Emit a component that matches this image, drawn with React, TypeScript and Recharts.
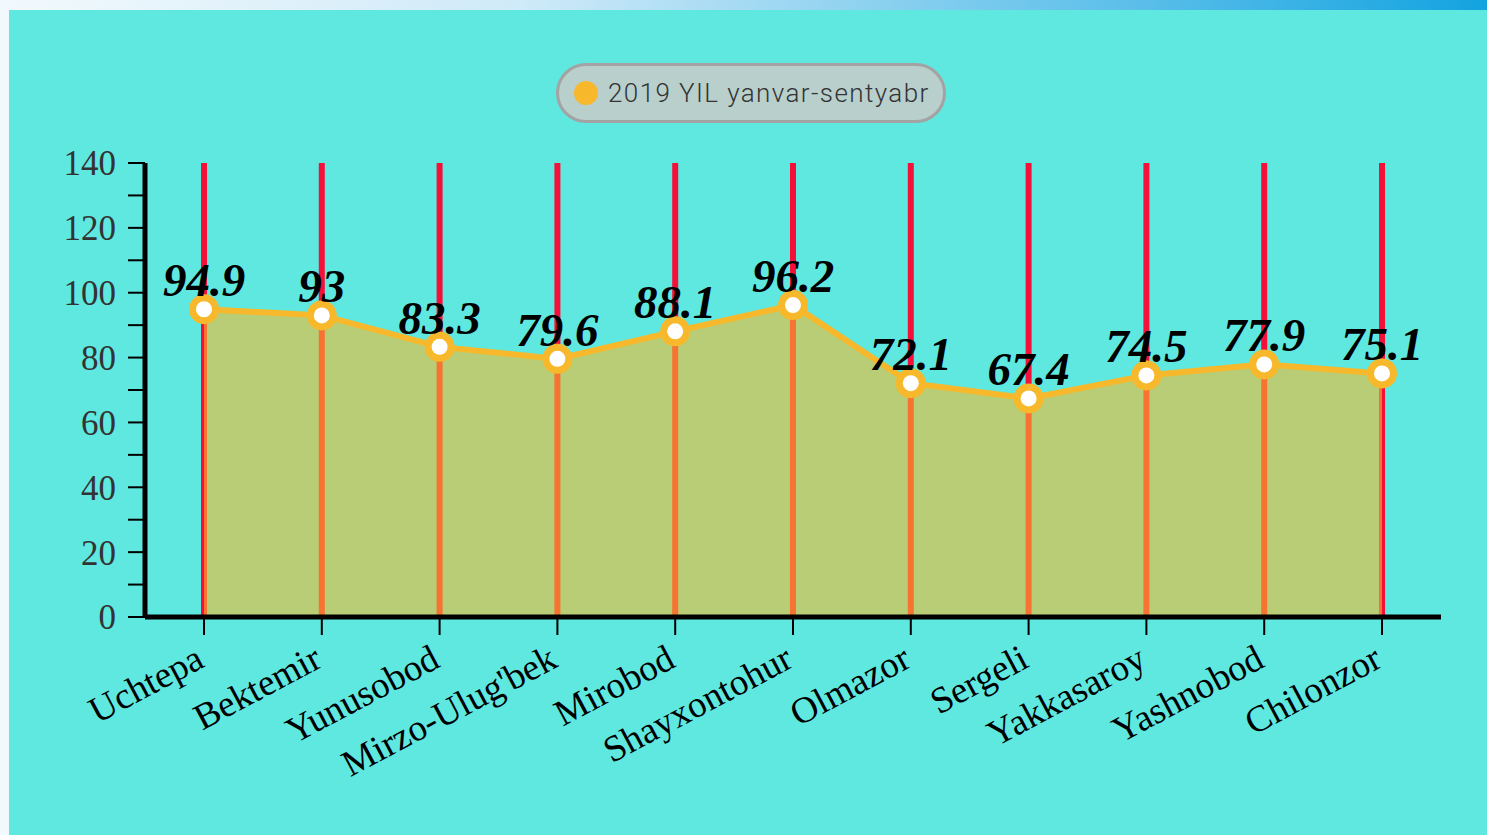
import { Area, AreaChart, CartesianGrid, LabelList, XAxis, YAxis } from 'recharts';

const DISTRICTS = [
  'Uchtepa',
  'Bektemir',
  'Yunusobod',
  "Mirzo-Ulug'bek",
  'Mirobod',
  'Shayxontohur',
  'Olmazor',
  'Sergeli',
  'Yakkasaroy',
  'Yashnobod',
  'Chilonzor',
];

const VALUES = [94.9, 93, 83.3, 79.6, 88.1, 96.2, 72.1, 67.4, 74.5, 77.9, 75.1];

const Y_TICKS = [0, 10, 20, 30, 40, 50, 60, 70, 80, 90, 100, 110, 120, 130, 140];

const SERIES_NAME = '2019 YIL yanvar-sentyabr';

const data = DISTRICTS.map((name, i) => ({ name, value: VALUES[i] }));

const SERIF = '"Liberation Serif", "Times New Roman", serif';

function XTick({ x, y, payload }: any) {
  const ax = x + 2;
  const ay = y + 29;
  return (
    <text
      x={ax}
      y={ay}
      textAnchor="end"
      transform={`rotate(-28 ${ax} ${ay})`}
      fontFamily={SERIF}
      fontSize={37}
      fill="#000"
    >
      {payload.value}
    </text>
  );
}

// dot drawn by hand so the white centre stays opaque
function Dot({ cx, cy, index }: any) {
  if (cx == null || cy == null) return null;
  return (
    <g key={`dot-${index}`}>
      <circle cx={cx} cy={cy} r={15} fill="#f7b92b" />
      <circle cx={cx} cy={cy} r={8} fill="#fff" />
    </g>
  );
}

export default function App() {
  return (
    <div
      style={{
        position: 'relative',
        width: 1487,
        height: 835,
        overflow: 'hidden',
        background: 'linear-gradient(90deg, #f2f9fd 0%, #cfeaf8 35%, #5fc0ea 75%, #12a3e0 100%)',
      }}
    >
      <style>{'body{margin:0}'}</style>
      <div
        style={{
          position: 'absolute',
          left: 9,
          top: 10,
          width: 1478,
          height: 825,
          background: '#5fe8e0',
        }}
      >
        <div
          style={{
            position: 'absolute',
            left: 547,
            top: 53,
            width: 390,
            height: 60,
            boxSizing: 'border-box',
            borderRadius: 30,
            border: '3px solid #a3a3a3',
            background: '#b8cfcc',
            display: 'flex',
            alignItems: 'center',
            paddingLeft: 15,
          }}
        >
          <span
            style={{
              width: 24,
              height: 24,
              borderRadius: 12,
              background: '#f7b92b',
              display: 'inline-block',
            }}
          />
          <span
            style={{
              marginLeft: 10,
              fontFamily: 'Roboto, sans-serif',
              fontWeight: 300,
              fontSize: 26,
              letterSpacing: 1.4,
              color: '#333',
            }}
          >
            {SERIES_NAME}
          </span>
        </div>
        <AreaChart
          width={1478}
          height={825}
          data={data}
          margin={{ top: 153, right: 46, bottom: 68, left: 56 }}
        >
          {/* red verticals sit under the area, so the fill turns them orange */}
          <CartesianGrid horizontal={false} syncWithTicks stroke="#f5103a" strokeWidth={6} />
          <XAxis
            dataKey="name"
            height={150}
            padding={{ left: 59, right: 59 }}
            interval={0}
            axisLine={{ stroke: '#000', strokeWidth: 5 }}
            tickLine={{ stroke: '#000', strokeWidth: 2 }}
            tickSize={18}
            tickMargin={2}
            tick={<XTick />}
          />
          <YAxis
            width={80}
            domain={[0, 140]}
            ticks={Y_TICKS}
            interval={0}
            tickFormatter={(v: number) => (v % 20 === 0 ? String(v) : '')}
            axisLine={{ stroke: '#000', strokeWidth: 5 }}
            tickLine={{ stroke: '#000', strokeWidth: 2 }}
            tickSize={17}
            tickMargin={12}
            tick={{ fontFamily: SERIF, fontSize: 35, fill: '#333' }}
          />
          <Area
            type="linear"
            dataKey="value"
            name={SERIES_NAME}
            stroke="#f7b92b"
            strokeWidth={6}
            fill="#f7b92b"
            fillOpacity={0.59}
            dot={<Dot />}
            activeDot={false}
            isAnimationActive={false}
          >
            <LabelList
              dataKey="value"
              position="top"
              offset={13}
              fontFamily={SERIF}
              fontSize={47}
              fontWeight="bold"
              fontStyle="italic"
              fill="#000"
            />
          </Area>
        </AreaChart>
      </div>
    </div>
  );
}
